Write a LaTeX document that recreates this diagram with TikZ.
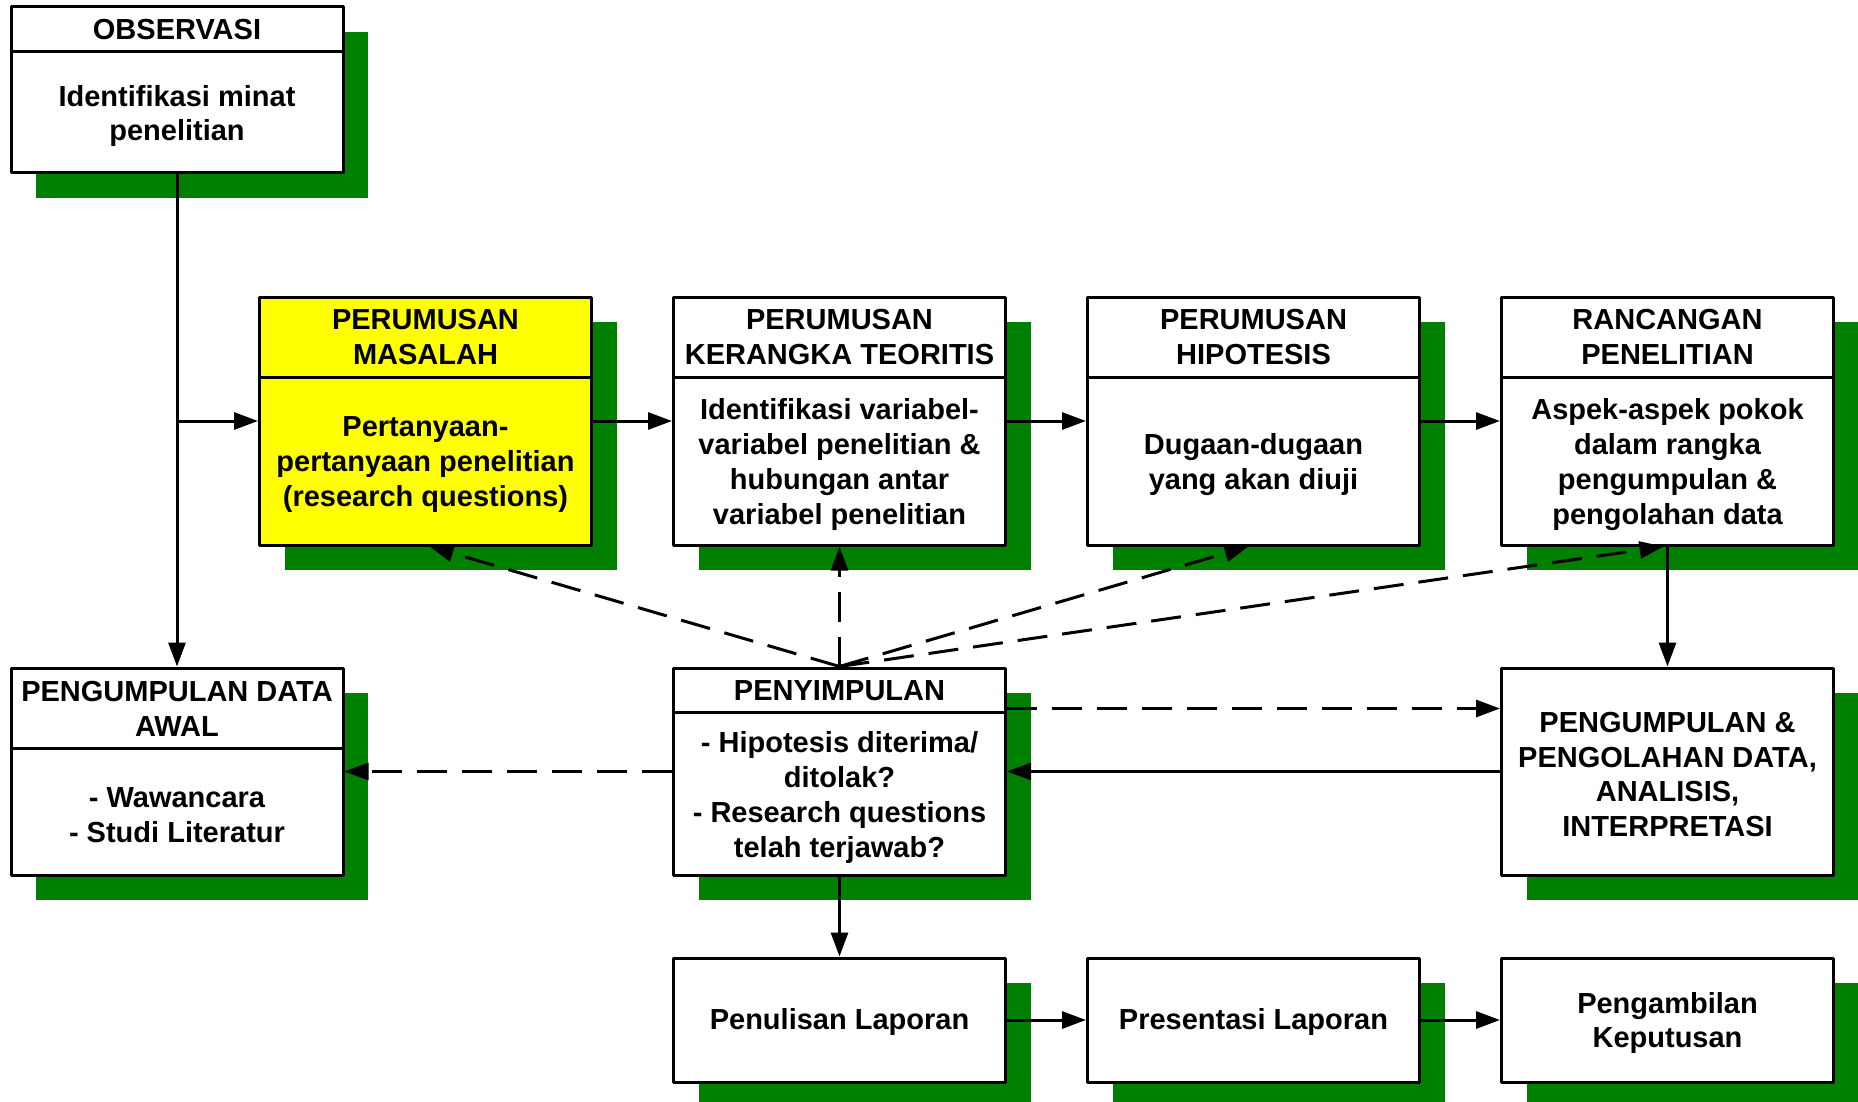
\documentclass[tikz,border=0pt]{standalone}
\usepackage{fontspec}
\setmainfont{Liberation Sans}
\usetikzlibrary{arrows.meta,calc,shadows}
\definecolor{shadowgreen}{RGB}{0,128,0}
\definecolor{boxyellow}{RGB}{255,255,0}
\begin{document}
\begin{tikzpicture}[x=1pt,y=-1pt,
  frame/.style={draw, line width=3pt, fill=white, minimum width=332pt,
    inner sep=0pt, line join=round,
    drop shadow={shadow xshift=25pt, shadow yshift=-25pt, fill=shadowgreen, opacity=1}},
  lbl/.style={align=center, inner sep=0pt,
    font=\fontsize{29}{34.8}\selectfont\bfseries},
  head/.style={lbl, yshift=0.5pt},
  body/.style={lbl, yshift=-3pt},
  single/.style={lbl, yshift=-1.5pt},
  divider/.style={line width=3pt},
  arr/.style={line width=3pt, -{Triangle[length=24pt,width=17pt]}},
  darr/.style={arr, dash pattern=on 30pt off 15pt}]

\fill[white] (0,0) rectangle (1858,1102);
\useasboundingbox (0,0) rectangle (1858,1102);

% ---------- frames ----------
\node[frame, minimum height=166pt] (obs) at (177,90) {};
\node[frame, minimum height=248pt, fill=boxyellow] (masalah) at (425.5,421) {};
\node[frame, minimum height=248pt] (kerangka) at (839.5,421) {};
\node[frame, minimum height=248pt] (hipotesis) at (1253.5,421) {};
\node[frame, minimum height=248pt] (rancangan) at (1667.5,421) {};
\node[frame, minimum height=207pt] (awal) at (177,771.5) {};
\node[frame, minimum height=207pt] (simpul) at (839.5,771.5) {};
\node[frame, minimum height=207pt] (olah) at (1667.5,771.5) {};
\node[frame, minimum height=124pt] (tulis) at (839.5,1020) {};
\node[frame, minimum height=124pt] (presentasi) at (1253.5,1020) {};
\node[frame, minimum height=124pt] (ambil) at (1667.5,1020) {};

% ---------- header dividers ----------
\draw[divider] ($(obs.north west)+(0,46)$) -- ($(obs.north east)+(0,46)$);
\foreach \b in {masalah,kerangka,hipotesis,rancangan}
  \draw[divider] ($(\b.north west)+(0,82)$) -- ($(\b.north east)+(0,82)$);
\draw[divider] ($(awal.north west)+(0,82)$) -- ($(awal.north east)+(0,82)$);
\draw[divider] ($(simpul.north west)+(0,46)$) -- ($(simpul.north east)+(0,46)$);

% ---------- texts ----------
\node[single, yshift=2pt] (obsH) at (177,30) {OBSERVASI};
\node[body] (obsB) at (177,113) {Identifikasi minat\\penelitian};

\node[head] (masalahH) at (425.5,337.5) {PERUMUSAN\\MASALAH};
\node[body] (masalahB) at (425.5,461.5) {Pertanyaan-\\pertanyaan penelitian\\(research questions)};

\node[head] (kerangkaH) at (839.5,337.5) {PERUMUSAN\\KERANGKA TEORITIS};
\node[body] (kerangkaB) at (839.5,461.5) {Identifikasi variabel-\\variabel penelitian \&\\hubungan antar\\variabel penelitian};

\node[head] (hipotesisH) at (1253.5,337.5) {PERUMUSAN\\HIPOTESIS};
\node[body] (hipotesisB) at (1253.5,461.5) {Dugaan-dugaan\\yang akan diuji};

\node[head] (rancanganH) at (1667.5,337.5) {RANCANGAN\\PENELITIAN};
\node[body] (rancanganB) at (1667.5,461.5) {Aspek-aspek pokok\\dalam rangka\\pengumpulan \&\\pengolahan data};

\node[head] (awalH) at (177,709) {PENGUMPULAN DATA\\AWAL};
\node[body] (awalB) at (177,812.5) {- Wawancara\\- Studi Literatur};

\node[single, yshift=2pt] (simpulH) at (839.5,691.5) {PENYIMPULAN};
\node[body] (simpulB) at (839.5,794.5) {- Hipotesis diterima/\\ditolak?\\- Research questions\\telah terjawab?};

\node[body] (olahB) at (1667.5,771.5) {PENGUMPULAN \&\\PENGOLAHAN DATA,\\ANALISIS,\\INTERPRETASI};

\node[single] (tulisB) at (839.5,1020) {Penulisan Laporan};
\node[single] (presentasiB) at (1253.5,1020) {Presentasi Laporan};
\node[body] (ambilB) at (1667.5,1020) {Pengambilan\\Keputusan};

% ---------- solid connectors ----------
\draw[arr] (obs.south) -- (awal.north);
\coordinate (fork) at (obs.south |- masalah.west);
\draw[arr] (fork) -- (masalah.west);
\draw[arr] (masalah.east) -- (kerangka.west);
\draw[arr] (kerangka.east) -- (hipotesis.west);
\draw[arr] (hipotesis.east) -- (rancangan.west);
\draw[arr] (rancangan.south) -- (olah.north);
\draw[arr] (olah.west) -- (simpul.east);
\draw[arr] (simpul.south) -- (tulis.north);
\draw[arr] (tulis.east) -- (presentasi.west);
\draw[arr] (presentasi.east) -- (ambil.west);

% ---------- dashed connectors ----------
\draw[darr] (simpul.west) -- (awal.east);
\coordinate (simpulR) at ($(simpul.north east)+(0,42)$);
\draw[darr] (simpulR) -- (simpulR -| olah.west);
\draw[darr] (simpul.north) -- ($(masalah.south)+(4,0)$);
\draw[darr] (simpul.north) -- (kerangka.south);
\draw[darr] (simpul.north) -- ($(hipotesis.south)+(-5,0)$);
\draw[darr] (simpul.north) -- ($(rancangan.south)+(-4,0)$);
\end{tikzpicture}
\end{document}
